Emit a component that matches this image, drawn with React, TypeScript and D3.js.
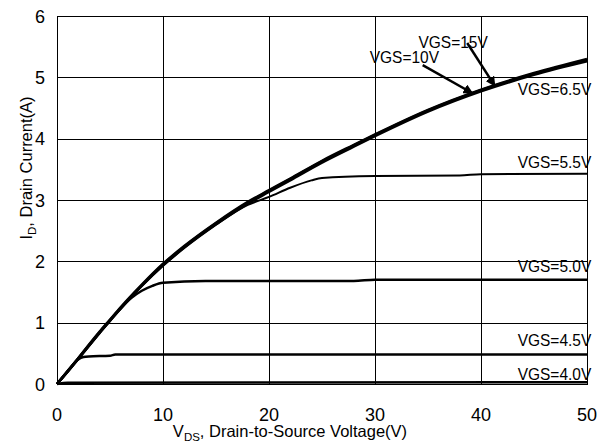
import { useEffect, useRef } from "react";
import * as d3 from "d3";

// Output characteristics: I_D vs V_DS for several V_GS values
const vdsMain = [0, 1, 2, 3, 4, 5, 6, 8, 10, 12, 15, 18, 20, 22, 25, 28, 30, 35, 40, 45, 50];
const id65 = [0, 0.2, 0.41, 0.62, 0.83, 1.03, 1.23, 1.6, 1.93, 2.22, 2.6, 2.94, 3.13, 3.32, 3.61, 3.87, 4.04, 4.44, 4.77, 5.04, 5.26];
const id10 = [0, 0.21, 0.42, 0.63, 0.84, 1.04, 1.24, 1.61, 1.95, 2.24, 2.62, 2.96, 3.15, 3.34, 3.63, 3.89, 4.06, 4.46, 4.79, 5.06, 5.28];
const id15 = [0, 0.21, 0.42, 0.64, 0.85, 1.05, 1.25, 1.62, 1.96, 2.25, 2.63, 2.97, 3.16, 3.35, 3.64, 3.9, 4.07, 4.47, 4.8, 5.07, 5.3];

const vds55 = [0, 2, 4, 6, 8, 10, 12, 15, 18, 20, 22, 24, 25, 30, 38, 40, 50];
const id55 = [0, 0.41, 0.83, 1.23, 1.6, 1.93, 2.22, 2.6, 2.92, 3.05, 3.2, 3.32, 3.36, 3.39, 3.4, 3.42, 3.43];

const vds50 = [0, 2, 4, 6, 7, 8, 9, 10, 14, 20, 28, 30, 50];
const id50 = [0, 0.41, 0.83, 1.23, 1.4, 1.52, 1.6, 1.65, 1.68, 1.68, 1.68, 1.7, 1.7];

const vds45 = [0, 1, 2, 2.5, 3, 5, 5.5, 10, 50];
const id45 = [0, 0.2, 0.4, 0.44, 0.45, 0.46, 0.48, 0.48, 0.48];

const vds40 = [0, 1, 50];
const id40 = [0, 0.02, 0.03];

const xTicks = [0, 10, 20, 30, 40, 50];
const yTicks = [0, 1, 2, 3, 4, 5, 6];

// curve labels placed at the right edge: [text, baseline current]
const edgeLabels: [string, number][] = [
  ["VGS=6.5V", 4.71],
  ["VGS=5.5V", 3.52],
  ["VGS=5.0V", 1.83],
  ["VGS=4.5V", 0.62],
  ["VGS=4.0V", 0.07],
];

// arrow labels: text, text pos (V, A), arrow tail, arrow head
const arrowLabels: { text: string; at: [number, number]; from: [number, number]; to: [number, number] }[] = [
  { text: "VGS=15V", at: [34.1, 5.48], from: [38.7, 5.56], to: [41.3, 4.86] },
  { text: "VGS=10V", at: [29.5, 5.23], from: [34.5, 5.2], to: [39.2, 4.74] },
];

export default function App() {
  const ref = useRef<SVGSVGElement>(null);

  useEffect(() => {
    if (!ref.current) return;
    const W = 601;
    const H = 444;
    const margin = { top: 16, right: 14, bottom: 60, left: 57 };

    const svg = d3.select(ref.current);
    svg.selectAll("*").remove();
    svg.attr("width", W).attr("height", H);

    const font = "Arial, 'Liberation Sans', sans-serif";

    const x = d3.scaleLinear().domain([0, 50]).range([margin.left, W - margin.right]);
    const y = d3.scaleLinear().domain([0, 6]).range([H - margin.bottom, margin.top]);

    svg.append("rect").attr("width", W).attr("height", H).attr("fill", "#fff");

    // grid
    const grid = svg.append("g").attr("stroke", "#000").attr("stroke-width", 1);
    xTicks.forEach((t) => {
      grid.append("line")
        .attr("x1", Math.round(x(t)) + 0.5).attr("x2", Math.round(x(t)) + 0.5)
        .attr("y1", y(6)).attr("y2", y(0));
    });
    yTicks.forEach((t) => {
      grid.append("line")
        .attr("x1", x(0)).attr("x2", x(50))
        .attr("y1", Math.round(y(t)) + 0.5).attr("y2", Math.round(y(t)) + 0.5);
    });

    // tick labels
    svg.append("g")
      .selectAll("text")
      .data(xTicks)
      .join("text")
      .attr("x", (d) => x(d))
      .attr("y", H - margin.bottom + 37)
      .attr("text-anchor", "middle")
      .attr("font-family", font)
      .attr("font-size", 18)
      .text((d) => d);

    svg.append("g")
      .selectAll("text")
      .data(yTicks)
      .join("text")
      .attr("x", margin.left - 12)
      .attr("y", (d) => y(d) + 6.5)
      .attr("text-anchor", "end")
      .attr("font-family", font)
      .attr("font-size", 18)
      .text((d) => d);

    // axis titles
    const xt = svg.append("text")
      .attr("x", 290)
      .attr("y", H - 7)
      .attr("text-anchor", "middle")
      .attr("font-family", font)
      .attr("font-size", 16.5);
    xt.append("tspan").text("V");
    xt.append("tspan").attr("font-size", 11.5).attr("dy", 4).text("DS");
    xt.append("tspan").attr("dy", -4).text(", Drain-to-Source Voltage(V)");

    const yt = svg.append("text")
      .attr("transform", `translate(32,168) rotate(-90)`)
      .attr("text-anchor", "middle")
      .attr("font-family", font)
      .attr("font-size", 16.5);
    yt.append("tspan").text("I");
    yt.append("tspan").attr("font-size", 11.5).attr("dy", 4).text("D");
    yt.append("tspan").attr("dy", -4).text(", Drain Current(A)");

    // curves
    const line = d3.line<[number, number]>()
      .x((d) => x(d[0]))
      .y((d) => y(d[1]))
      .curve(d3.curveMonotoneX);

    const series: [number[], number[], number][] = [
      [vds40, id40, 2.5],
      [vds45, id45, 2.5],
      [vds50, id50, 2.5],
      [vds55, id55, 2],
      [vdsMain, id65, 2.5],
      [vdsMain, id10, 2.5],
      [vdsMain, id15, 2.5],
    ];
    series.forEach(([xs, ys, w]) => {
      svg.append("path")
        .datum(xs.map((v, i) => [v, ys[i]] as [number, number]))
        .attr("fill", "none")
        .attr("stroke", "#000")
        .attr("stroke-width", w)
        .attr("d", line);
    });

    // border
    svg.append("rect")
      .attr("x", x(0) + 0.5)
      .attr("y", y(6) + 0.5)
      .attr("width", x(50) - x(0))
      .attr("height", y(0) - y(6))
      .attr("fill", "none")
      .attr("stroke", "#000")
      .attr("stroke-width", 1);

    // labels at right edge (slightly tall glyphs like the original)
    svg.append("g")
      .selectAll("text")
      .data(edgeLabels)
      .join("text")
      .attr("transform", (d) => `translate(${x(50.4)},${y(d[1])}) scale(1,1.12)`)
      .attr("text-anchor", "end")
      .attr("font-family", font)
      .attr("font-size", 15.5)
      .text((d) => d[0]);

    // arrows
    svg.append("defs")
      .append("marker")
      .attr("id", "ah")
      .attr("viewBox", "0 0 10 10")
      .attr("refX", 9)
      .attr("refY", 5)
      .attr("markerWidth", 4)
      .attr("markerHeight", 4)
      .attr("orient", "auto")
      .attr("markerUnits", "strokeWidth")
      .append("path")
      .attr("d", "M0,0L10,5L0,10z")
      .attr("fill", "#000");

    arrowLabels.forEach((a) => {
      svg.append("line")
        .attr("x1", x(a.from[0])).attr("y1", y(a.from[1]))
        .attr("x2", x(a.to[0])).attr("y2", y(a.to[1]))
        .attr("stroke", "#000")
        .attr("stroke-width", 2.5)
        .attr("marker-end", "url(#ah)");
      svg.append("text")
        .attr("transform", `translate(${x(a.at[0])},${y(a.at[1])}) scale(1,1.12)`)
        .attr("font-family", font)
        .attr("font-size", 15.5)
        .text(a.text);
    });
  }, []);

  return (
    <div style={{ position: "absolute", left: 0, top: 0 }}>
      <svg ref={ref} />
    </div>
  );
}
